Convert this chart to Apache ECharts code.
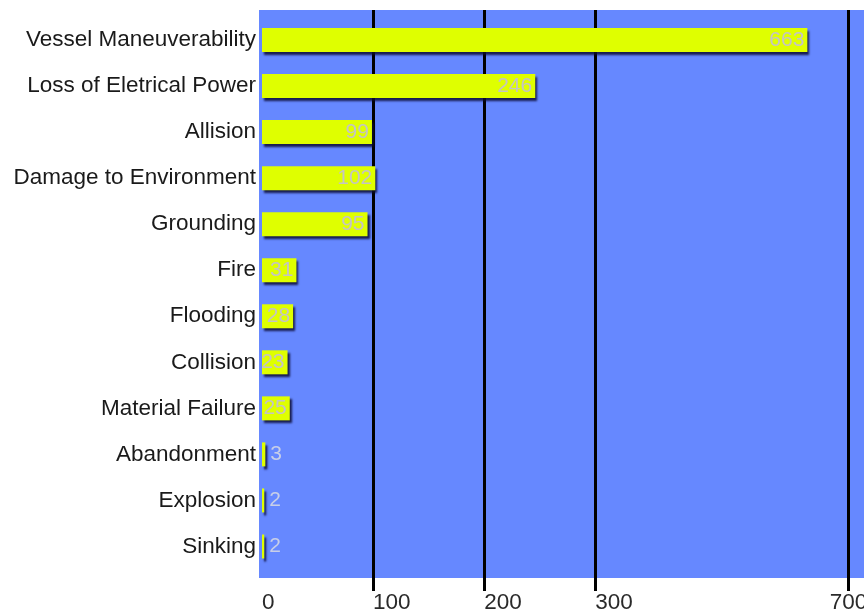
<!DOCTYPE html>
<html><head><meta charset="utf-8">
<script src="https://cdn.jsdelivr.net/npm/echarts@6/dist/echarts.min.js"></script>
<style>html,body{margin:0;padding:0;background:#fff}#c{width:864px;height:609px}</style>
</head><body><div id="c"></div>
<script>
// ---- data ----
const categories = ['Vessel Maneuverability','Loss of Eletrical Power','Allision','Damage to Environment','Grounding','Fire','Flooding','Collision','Material Failure','Abandonment','Explosion','Sinking'];
const values = [663, 246, 99, 102, 95, 31, 28, 23, 25, 3, 2, 2];
const xTickLabels = [0, 100, 200, 300, 700];
const axisBreak = { start: 360, end: 560, gap: 28 };
const xMax = 714;

// ---- chart ----
const FONT = '"Liberation Sans", Arial, sans-serif';
const chart = echarts.init(document.getElementById('c'), null, { renderer: 'canvas' });

function xAxisBase(gridIndex) {
  return {
    type: 'value', gridIndex: gridIndex, min: 0, max: xMax, interval: 100,
    breaks: [Object.assign({}, axisBreak)],
    breakArea: { show: false, itemStyle: { color: 'rgba(0,0,0,0)', borderColor: 'rgba(0,0,0,0)', borderWidth: 0 }, zigzagAmplitude: 0 },
    axisLine: { show: false }, axisTick: { show: false }, axisLabel: { show: false }, splitLine: { show: false }
  };
}
function tickLabelStyle(vals, align) {
  return {
    show: true, customValues: vals, color: '#2a2a2a', fontFamily: FONT, fontSize: 22.5, margin: 0,
    align: align, hideOverlap: false, formatter: function (v) { return String(v); }
  };
}

const xBg = xAxisBase(0);
const xLines = xAxisBase(1);
xLines.axisTick = { show: false, customValues: xTickLabels };
xLines.splitLine = { show: true, showMinLine: false, showMaxLine: true, lineStyle: { color: '#000', width: 3 } };
xLines.axisLabel = tickLabelStyle(xTickLabels.slice(0, -1), 'left');
const xBars = xAxisBase(2);
const xLast = xAxisBase(3);
xLast.axisLabel = tickLabelStyle(xTickLabels.slice(-1), 'center');

const gridCommon = { right: 0, outerBoundsMode: 'none', containLabel: false, borderWidth: 0 };
const option = {
  animation: false,
  backgroundColor: '#ffffff',
  grid: [
    Object.assign({ left: 259, top: 10, bottom: 31, show: true, backgroundColor: '#6688ff' }, gridCommon),
    Object.assign({ left: 262, top: 10, bottom: 18, show: false }, gridCommon),
    Object.assign({ left: 262, top: 17, bottom: 39.5, show: false }, gridCommon),
    Object.assign({ left: 262, top: 10, bottom: 18, show: false }, gridCommon)
  ],
  xAxis: [xBg, xLines, xBars, xLast],
  yAxis: [
    { type: 'value', gridIndex: 0, show: false },
    { type: 'value', gridIndex: 1, show: false },
    {
      type: 'category', gridIndex: 2, data: categories, inverse: true,
      axisLine: { show: false }, axisTick: { show: false }, splitLine: { show: false },
      axisLabel: { color: '#1a1a1a', fontFamily: FONT, fontSize: 22.5, margin: 6 }
    },
    { type: 'value', gridIndex: 3, show: false }
  ],
  series: [{
    type: 'bar', xAxisIndex: 2, yAxisIndex: 2, barWidth: 24,
    itemStyle: { color: '#dfff00', shadowColor: 'rgba(10,10,50,0.85)', shadowOffsetX: 2, shadowOffsetY: 3, shadowBlur: 2 },
    label: { show: true, position: 'insideRight', distance: 3, color: '#c4c4c4', fontFamily: FONT, fontSize: 21 },
    data: values.map(function (v) {
      return v < 10 ? { value: v, label: { position: 'right', distance: 5, color: '#c8cfe8' } } : v;
    })
  }]
};
chart.setOption(option);
</script>
</body></html>
